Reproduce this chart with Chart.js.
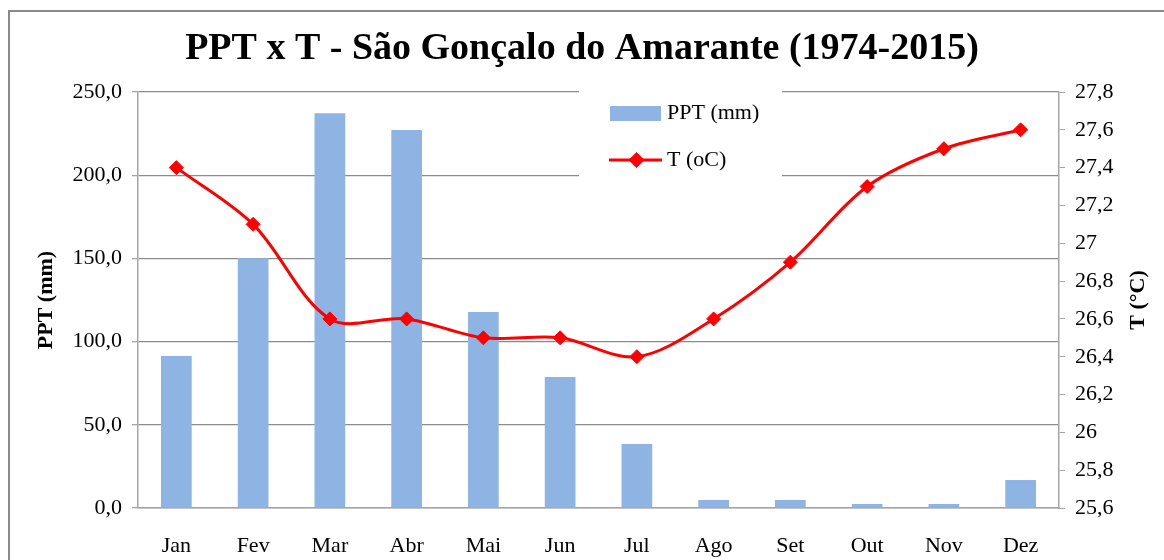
<!DOCTYPE html>
<html>
<head>
<meta charset="utf-8">
<script src="https://cdn.jsdelivr.net/npm/chart.js@4.4.1/dist/chart.umd.min.js"></script>
<style>
  html, body { margin: 0; padding: 0; background: #fff; }
  #wrap { width: 1164px; height: 560px; }
</style>
</head>
<body>
<div id="wrap"><canvas id="chart" width="1164" height="560"></canvas></div>
<script>
const months = ["Jan", "Fev", "Mar", "Abr", "Mai", "Jun", "Jul", "Ago", "Set", "Out", "Nov", "Dez"];
const pptValues = [91.3, 150.1, 237.3, 227.2, 117.8, 78.8, 38.5, 4.8, 4.8, 2.4, 2.4, 16.8];
const tempValues = [27.4, 27.1, 26.6, 26.6, 26.5, 26.5, 26.4, 26.6, 26.9, 27.3, 27.5, 27.6];
const pptLabel = "PPT (mm)";
const tempLabel = "T (oC)";
const titleText = "PPT x T - São Gonçalo do Amarante (1974-2015)";
const leftAxisTitle = "PPT (mm)";
const rightAxisTitle = "T (°C)";

const serif = "'Liberation Serif', 'Times New Roman', serif";
const barColor = "#8EB4E3";
const lineColor = "#FF0000";

Chart.defaults.color = "#000";
Chart.defaults.font.family = serif;

// outer frame of the chart object
const framePlugin = {
  id: "frame",
  beforeDraw(chart) {
    const ctx = chart.ctx;
    ctx.save();
    ctx.fillStyle = "#fff";
    ctx.fillRect(0, 0, chart.width, chart.height);
    ctx.strokeStyle = "#8a8a8a";
    ctx.lineWidth = 2;
    ctx.strokeRect(9, 11, chart.width + 40, chart.height + 40);
    ctx.restore();
  }
};

// legend inside the plot and right axis title (reads bottom to top)
const extrasPlugin = {
  id: "extras",
  afterDraw(chart) {
    const ctx = chart.ctx;
    const area = chart.chartArea;
    const ds = chart.data.datasets;
    ctx.save();

    const lx = area.left + 441;
    const ly = area.top - 6;
    ctx.fillStyle = "#fff";
    ctx.fillRect(lx, ly, 203, 104);

    ctx.font = "22px " + serif;
    ctx.textBaseline = "middle";
    ctx.textAlign = "left";

    // bar item
    ctx.fillStyle = barColor;
    ctx.fillRect(lx + 31, ly + 20, 51, 15);
    ctx.fillStyle = "#000";
    ctx.fillText(ds[1].label, lx + 88, ly + 27);

    // line item
    const cy = ly + 74;
    ctx.strokeStyle = lineColor;
    ctx.lineWidth = 3;
    ctx.beginPath();
    ctx.moveTo(lx + 30, cy);
    ctx.lineTo(lx + 83, cy);
    ctx.stroke();
    const dx = lx + 57.5;
    ctx.fillStyle = lineColor;
    ctx.beginPath();
    ctx.moveTo(dx, cy - 8);
    ctx.lineTo(dx + 8, cy);
    ctx.lineTo(dx, cy + 8);
    ctx.lineTo(dx - 8, cy);
    ctx.closePath();
    ctx.fill();
    ctx.fillStyle = "#000";
    ctx.fillText(ds[0].label, lx + 88, cy);

    // right axis title
    ctx.font = "bold 22px " + serif;
    ctx.textAlign = "center";
    ctx.translate(1138, (area.top + area.bottom) / 2);
    ctx.rotate(-Math.PI / 2);
    ctx.fillText(rightAxisTitle, 0, 0);
    ctx.restore();
  }
};

new Chart(document.getElementById("chart"), {
  type: "bar",
  data: {
    labels: months,
    datasets: [
      {
        type: "line",
        label: tempLabel,
        data: tempValues,
        yAxisID: "yT",
        order: 0,
        borderColor: lineColor,
        borderWidth: 3,
        tension: 0.33,
        pointStyle: "rectRot",
        pointRadius: 7,
        pointBorderWidth: 1,
        pointBackgroundColor: lineColor,
        pointBorderColor: lineColor
      },
      {
        type: "bar",
        label: pptLabel,
        data: pptValues,
        yAxisID: "yP",
        order: 1,
        backgroundColor: barColor,
        categoryPercentage: 1,
        barPercentage: 0.4
      }
    ]
  },
  options: {
    responsive: false,
    animation: false,
    events: [],
    layout: { padding: 0 },
    plugins: {
      legend: { display: false },
      tooltip: { enabled: false },
      title: {
        display: true,
        text: titleText,
        color: "#000",
        font: { family: serif, size: 38, weight: "bold" },
        padding: { top: 26, bottom: 20.4 }
      }
    },
    scales: {
      x: {
        grid: { display: false },
        border: { display: true, color: "#a6a6a6", width: 1.5 },
        ticks: { padding: 17, font: { size: 22 }, maxRotation: 0 },
        afterFit(scale) { scale.height = 52; }
      },
      yP: {
        position: "left",
        min: 0,
        max: 250,
        ticks: {
          stepSize: 50,
          padding: 10,
          font: { size: 22 },
          callback: (v) => v.toFixed(1).replace(".", ",")
        },
        grid: { color: "#8c8c8c", lineWidth: 1.3, tickLength: 6, tickColor: "#a6a6a6" },
        border: { color: "#a6a6a6", width: 1.5 },
        title: {
          display: true,
          text: leftAxisTitle,
          font: { size: 22, weight: "bold" },
          padding: { top: 33, bottom: 0 }
        },
        afterFit(scale) { scale.width = 138; }
      },
      yT: {
        position: "right",
        min: 25.6,
        max: 27.8,
        ticks: {
          stepSize: 0.2,
          padding: 10,
          font: { size: 22 },
          callback: (v) => {
            const r = Math.round(v * 10) / 10;
            return Number.isInteger(r) ? String(r) : r.toFixed(1).replace(".", ",");
          }
        },
        grid: { drawOnChartArea: false, tickLength: 6, color: "#a6a6a6" },
        border: { color: "#a6a6a6", width: 1.5 },
        afterFit(scale) { scale.width = 105; }
      }
    }
  },
  plugins: [framePlugin, extrasPlugin]
});
</script>
</body>
</html>
